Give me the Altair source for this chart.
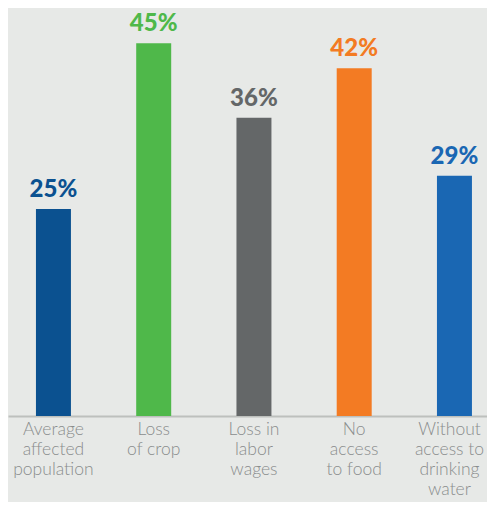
import altair as alt
import pandas as pd

categories = ["Average affected population", "Loss of crop", "Loss in labor wages",
              "No access to food", "Without access to drinking water"]
label_lines = ["Average|affected|population", "Loss|of crop", "Loss in|labor|wages",
               "No|access|to food", "Without|access to|drinking|water"]
values = [25, 45, 36, 42, 29]
colors = ["#0b5190", "#4fb84a", "#646768", "#f37b23", "#1a67b3"]

df = pd.DataFrame({"category": label_lines, "value": values,
                   "label": [f"{v}%" for v in values]})

x = alt.X("category:N", sort=None, title=None,
          scale=alt.Scale(paddingInner=0.651, paddingOuter=0.2145, align=0.65),
          axis=alt.Axis(labelAngle=0, labelExpr="split(datum.label, '|')",
                        labelFont="Lato", labelFontWeight=300, labelFontSize=17.5,
                        labelColor="#8a8d8d", labelLineHeight=20, labelPadding=4,
                        labelOffset={"condition": {"test": "datum.value == '" + label_lines[-1] + "'",
                                                   "value": -5}, "value": 0},
                        labelBaseline="top", labelLimit=0, ticks=False,
                        domainColor="#bdc0bd", domainWidth=2))
y = alt.Y("value:Q", scale=alt.Scale(domain=[0, 48.3], nice=False), axis=None)
color = alt.Color("category:N", sort=None,
                  scale=alt.Scale(domain=label_lines, range=colors), legend=None)

bars = alt.Chart(df).mark_bar().encode(x=x, y=y, color=color)
text = alt.Chart(df).mark_text(font="Lato", fontWeight=900, fontSize=24,
                               baseline="alphabetic", dy=-12).encode(
    x=x, y=y, text="label:N", color=color)

chart = (bars + text).properties(
    width=479, height=400, background="#e7e9e7",
    autosize=alt.AutoSizeParams(type="none"),
    padding={"left": 0, "top": 8, "right": 0, "bottom": 86}
).configure_view(stroke=None)

chart.save("out.html", embed_options={"renderer": "svg", "actions": False})
